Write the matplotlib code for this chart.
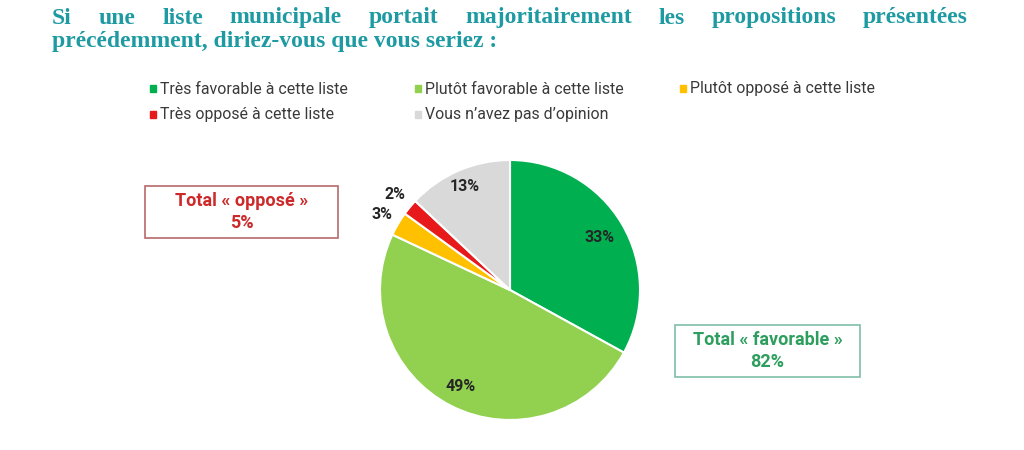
import matplotlib
matplotlib.use("Agg")
import matplotlib.pyplot as plt
from matplotlib.patches import Rectangle
import numpy as np

# data
categories = ["Très favorable à cette liste", "Plutôt favorable à cette liste",
              "Plutôt opposé à cette liste", "Très opposé à cette liste",
              "Vous n’avez pas d’opinion"]
values = [33, 49, 3, 2, 13]
colors = ["#00b050", "#92d050", "#ffc000", "#e8191b", "#d9d9d9"]
label_dist = [0.80, 0.83, 1.14, 1.15, 0.87]

title_line1 = "Si une liste municipale portait majoritairement les propositions présentées"
title_line2 = "précédemment, diriez-vous que vous seriez :"
total_opp = ("Total « opposé »", "5%")
total_fav = ("Total « favorable »", "82%")

W, H = 1024, 450
fig = plt.figure(figsize=(W / 100, H / 100), dpi=100)
fig.patch.set_facecolor("white")

def fx(px):
    return px / W

def fy(py):
    return 1 - py / H

# title, justified on first line
teal = "#1e9aa2"
tfont = dict(family="Liberation Serif", weight="bold", size=17, color=teal)
words = title_line1.split()
fig.canvas.draw()
renderer = fig.canvas.get_renderer()
tmp = [fig.text(0, 0, w, **tfont) for w in words]
widths = [t.get_window_extent(renderer).width for t in tmp]
for t in tmp:
    t.remove()
x0, x1 = 52, 968
gap = (x1 - x0 - sum(widths)) / (len(words) - 1)
x = x0
for w, wd in zip(words, widths):
    fig.text(fx(x), fy(18), w, va="center", ha="left", **tfont)
    x += wd + gap
fig.text(fx(52), fy(42), title_line2, va="center", ha="left", **tfont)

# legend
leg_pos = [(150, 89), (415, 89), (680, 89), (150, 114), (415, 114)]
for (lx, ly), lab, c in zip(leg_pos, categories, colors):
    fig.patches.append(Rectangle((fx(lx), fy(ly + 3.5)), fx(6), 7 / H,
                                 transform=fig.transFigure, color=c))
    fig.text(fx(lx + 10), fy(ly), lab, va="center", ha="left",
             family="Roboto", size=11.4, color="#3a3a3a")

# pie
cx, cy, r = 510, 290, 130
ax = fig.add_axes([fx(cx - r), fy(cy + r), 2 * r / W, 2 * r / H])
wedges, _ = ax.pie(values, colors=colors, startangle=90, counterclock=False,
                   radius=1, wedgeprops=dict(edgecolor="white", linewidth=1.5))
for wdg, v, d in zip(wedges, values, label_dist):
    ang = np.deg2rad((wdg.theta1 + wdg.theta2) / 2)
    ax.text(d * np.cos(ang), d * np.sin(ang), f"{v}%", ha="center", va="center",
            family="Roboto", weight="bold", size=11.5, color="#262626")
ax.set_xlim(-1, 1)
ax.set_ylim(-1, 1)
ax.set_aspect("equal")
ax.axis("off")

# total boxes
def total_box(left, top, right, bottom, lines, tcolor, ecolor):
    fig.patches.append(Rectangle((fx(left), fy(bottom)), (right - left) / W,
                                 (bottom - top) / H, transform=fig.transFigure,
                                 fill=False, edgecolor=ecolor, linewidth=1.2))
    mid = (left + right) / 2
    fig.text(fx(mid), fy(top + 15), lines[0], ha="center", va="center",
             family="Roboto", weight="bold", size=13, color=tcolor)
    fig.text(fx(mid), fy(top + 37), lines[1], ha="center", va="center",
             family="Roboto", weight="bold", size=13, color=tcolor)

total_box(145, 186, 338, 238, total_opp, "#cc2a2a", "#b86a6a")
total_box(675, 325, 860, 377, total_fav, "#2e9e5e", "#7fbfa8")

fig.savefig("out.png", dpi=100, facecolor="white")
